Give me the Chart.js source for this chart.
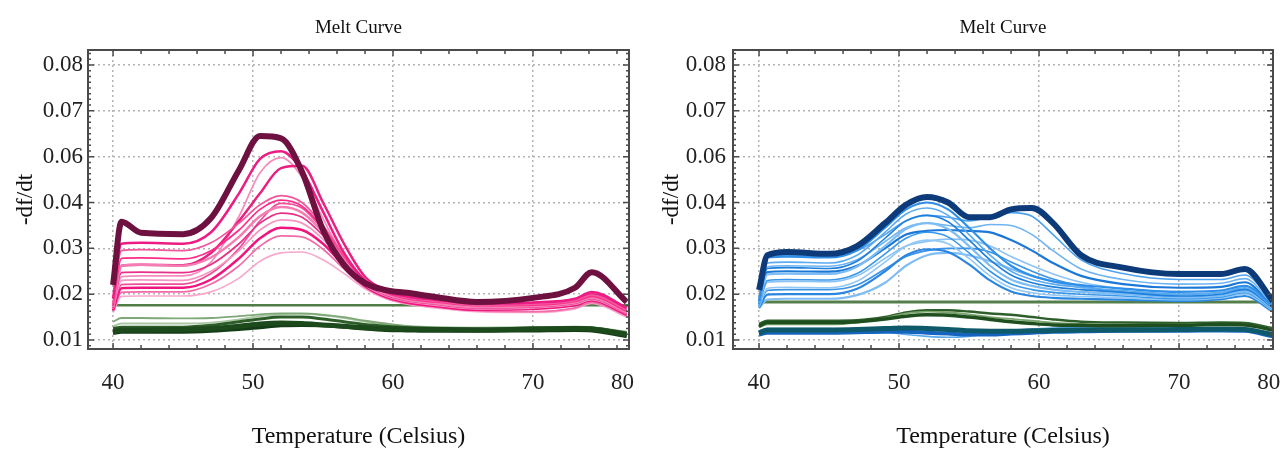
<!DOCTYPE html>
<html>
<head>
<meta charset="utf-8">
<script src="https://cdn.jsdelivr.net/npm/chart.js@4.4.0/dist/chart.umd.min.js"></script>
<style>
  html, body { margin: 0; padding: 0; background: #fff; }
  #wrap { position: relative; width: 1283px; height: 449px; }
  canvas { position: absolute; top: 0; }
</style>
</head>
<body>
<div id="wrap">
  <canvas id="leftChart" width="641" height="449" style="left:0"></canvas>
  <canvas id="rightChart" width="642" height="449" style="left:641px"></canvas>
</div>
<script>
// temperatures for each panel's curves
const tempsLeft = [40, 40.6, 42, 45, 47, 49, 50.5, 52, 53.5, 55, 56.5, 58, 59.5, 61, 63, 66, 70, 73, 74.2, 76.7];
const tempsRight = [40, 40.6, 42, 45, 47, 49, 50.5, 52, 53.5, 55, 56.5, 58, 59.5, 61, 63, 66, 70, 73, 74.7, 76.7];
const flatTemps = [40, 76.9];

const xTickValues = [40, 50, 60, 70, 76.4];
const xTickLabels = ['40', '50', '60', '70', '80'];
const yTickValues = [0.01, 0.02, 0.03, 0.04, 0.05, 0.06, 0.07];
const yTickLabels = ['0.01', '0.02', '0.03', '0.04', '0.06', '0.07', '0.08'];

// left panel
const maroonLeft = [0.0220, 0.0358, 0.0334, 0.0331, 0.0366, 0.0471, 0.0545, 0.0540, 0.0467, 0.0340, 0.0264, 0.0224, 0.0209, 0.0203, 0.0194, 0.0183, 0.0192, 0.0214, 0.0248, 0.0183];
const pinkLeft = [
  [0.0190, 0.0310, 0.0312, 0.0310, 0.0335, 0.0420, 0.0495, 0.0512, 0.0470, 0.0380, 0.0290, 0.0230, 0.0205, 0.0195, 0.0188, 0.0180, 0.0182, 0.0190, 0.0205, 0.0170],
  [0.0180, 0.0295, 0.0297, 0.0295, 0.0312, 0.0355, 0.0395, 0.0415, 0.0400, 0.0350, 0.0285, 0.0230, 0.0205, 0.0192, 0.0185, 0.0176, 0.0178, 0.0186, 0.0198, 0.0165],
  [0.0175, 0.0278, 0.0279, 0.0277, 0.0295, 0.0340, 0.0385, 0.0405, 0.0392, 0.0345, 0.0282, 0.0228, 0.0203, 0.0190, 0.0183, 0.0175, 0.0176, 0.0184, 0.0195, 0.0163],
  [0.0172, 0.0262, 0.0264, 0.0262, 0.0280, 0.0325, 0.0370, 0.0390, 0.0378, 0.0335, 0.0276, 0.0225, 0.0200, 0.0188, 0.0180, 0.0172, 0.0174, 0.0182, 0.0192, 0.0160],
  [0.0170, 0.0247, 0.0248, 0.0247, 0.0265, 0.0310, 0.0355, 0.0377, 0.0368, 0.0328, 0.0272, 0.0222, 0.0198, 0.0186, 0.0178, 0.0170, 0.0172, 0.0180, 0.0190, 0.0158],
  [0.0168, 0.0230, 0.0231, 0.0230, 0.0250, 0.0295, 0.0340, 0.0362, 0.0355, 0.0320, 0.0268, 0.0220, 0.0196, 0.0184, 0.0176, 0.0168, 0.0170, 0.0178, 0.0188, 0.0157],
  [0.0165, 0.0213, 0.0214, 0.0214, 0.0232, 0.0278, 0.0322, 0.0345, 0.0340, 0.0310, 0.0262, 0.0218, 0.0194, 0.0182, 0.0174, 0.0166, 0.0168, 0.0176, 0.0186, 0.0155],
  [0.0163, 0.0204, 0.0205, 0.0205, 0.0222, 0.0262, 0.0305, 0.0327, 0.0325, 0.0298, 0.0255, 0.0215, 0.0192, 0.0180, 0.0172, 0.0164, 0.0162, 0.0170, 0.0182, 0.0153],
  [0.0160, 0.0195, 0.0196, 0.0196, 0.0205, 0.0235, 0.0272, 0.0290, 0.0292, 0.0275, 0.0245, 0.0212, 0.0190, 0.0178, 0.0170, 0.0162, 0.0160, 0.0168, 0.0180, 0.0150],
  [0.0172, 0.0262, 0.0264, 0.0263, 0.0290, 0.0360, 0.0420, 0.0475, 0.0480, 0.0400, 0.0310, 0.0238, 0.0208, 0.0194, 0.0185, 0.0177, 0.0178, 0.0186, 0.0200, 0.0165],
  [0.0168, 0.0238, 0.0240, 0.0240, 0.0270, 0.0370, 0.0465, 0.0498, 0.0455, 0.0365, 0.0280, 0.0226, 0.0200, 0.0188, 0.0180, 0.0172, 0.0175, 0.0183, 0.0196, 0.0162],
  [0.0166, 0.0221, 0.0222, 0.0222, 0.0245, 0.0300, 0.0360, 0.0398, 0.0388, 0.0340, 0.0275, 0.0222, 0.0197, 0.0185, 0.0177, 0.0169, 0.0171, 0.0179, 0.0189, 0.0156]
];
const flatLeft = [0.0176, 0.0176];
const greenLeft = [
  [0.0118, 0.0122, 0.0122, 0.0123, 0.0125, 0.0130, 0.0135, 0.0137, 0.0136, 0.0133, 0.0130, 0.0127, 0.0125, 0.0124, 0.0123, 0.0122, 0.0124, 0.0125, 0.0124, 0.0112],
  [0.0125, 0.0128, 0.0128, 0.0128, 0.0132, 0.0140, 0.0146, 0.0150, 0.0150, 0.0146, 0.0140, 0.0134, 0.0130, 0.0127, 0.0125, 0.0124, 0.0126, 0.0127, 0.0126, 0.0115],
  [0.0140, 0.0148, 0.0148, 0.0147, 0.0148, 0.0152, 0.0156, 0.0158, 0.0158, 0.0155, 0.0150, 0.0142, 0.0136, 0.0131, 0.0128, 0.0127, 0.0128, 0.0129, 0.0128, 0.0118],
  [0.0115, 0.0118, 0.0118, 0.0118, 0.0120, 0.0124, 0.0128, 0.0132, 0.0133, 0.0132, 0.0129, 0.0125, 0.0122, 0.0121, 0.0120, 0.0120, 0.0121, 0.0122, 0.0121, 0.0108],
  [0.0130, 0.0136, 0.0136, 0.0136, 0.0138, 0.0145, 0.0152, 0.0156, 0.0157, 0.0154, 0.0148, 0.0140, 0.0133, 0.0129, 0.0127, 0.0126, 0.0127, 0.0128, 0.0127, 0.0116]
];

// right panel
const navyRight = [0.0209, 0.0285, 0.0292, 0.0288, 0.0305, 0.0355, 0.0395, 0.0412, 0.0400, 0.0368, 0.0368, 0.0385, 0.0388, 0.0355, 0.0285, 0.0258, 0.0244, 0.0244, 0.0255, 0.0185];
const blueRight = [
  [0.0185, 0.0280, 0.0282, 0.0280, 0.0296, 0.0345, 0.0385, 0.0400, 0.0385, 0.0345, 0.0300, 0.0262, 0.0240, 0.0228, 0.0220, 0.0212, 0.0205, 0.0208, 0.0218, 0.0175],
  [0.0180, 0.0268, 0.0270, 0.0268, 0.0285, 0.0335, 0.0375, 0.0388, 0.0372, 0.0330, 0.0285, 0.0250, 0.0232, 0.0222, 0.0215, 0.0208, 0.0200, 0.0204, 0.0214, 0.0172],
  [0.0178, 0.0256, 0.0258, 0.0256, 0.0272, 0.0322, 0.0360, 0.0372, 0.0358, 0.0318, 0.0275, 0.0242, 0.0225, 0.0216, 0.0210, 0.0204, 0.0196, 0.0200, 0.0210, 0.0170],
  [0.0176, 0.0243, 0.0245, 0.0244, 0.0260, 0.0305, 0.0342, 0.0355, 0.0342, 0.0305, 0.0262, 0.0232, 0.0218, 0.0210, 0.0205, 0.0200, 0.0193, 0.0197, 0.0206, 0.0168],
  [0.0174, 0.0230, 0.0232, 0.0231, 0.0245, 0.0288, 0.0322, 0.0335, 0.0325, 0.0290, 0.0250, 0.0222, 0.0210, 0.0204, 0.0200, 0.0196, 0.0190, 0.0194, 0.0203, 0.0166],
  [0.0172, 0.0213, 0.0215, 0.0214, 0.0228, 0.0270, 0.0305, 0.0318, 0.0310, 0.0278, 0.0240, 0.0214, 0.0203, 0.0198, 0.0195, 0.0192, 0.0188, 0.0192, 0.0200, 0.0164],
  [0.0170, 0.0199, 0.0200, 0.0200, 0.0212, 0.0250, 0.0285, 0.0298, 0.0292, 0.0265, 0.0230, 0.0206, 0.0196, 0.0192, 0.0190, 0.0188, 0.0185, 0.0189, 0.0196, 0.0162],
  [0.0190, 0.0283, 0.0285, 0.0283, 0.0295, 0.0330, 0.0360, 0.0372, 0.0368, 0.0360, 0.0368, 0.0378, 0.0370, 0.0330, 0.0275, 0.0245, 0.0232, 0.0232, 0.0242, 0.0180],
  [0.0185, 0.0260, 0.0262, 0.0261, 0.0275, 0.0315, 0.0345, 0.0355, 0.0350, 0.0345, 0.0352, 0.0350, 0.0330, 0.0295, 0.0255, 0.0232, 0.0222, 0.0224, 0.0234, 0.0176],
  [0.0182, 0.0248, 0.0250, 0.0249, 0.0262, 0.0300, 0.0330, 0.0338, 0.0340, 0.0338, 0.0335, 0.0318, 0.0295, 0.0268, 0.0240, 0.0222, 0.0214, 0.0216, 0.0226, 0.0172],
  [0.0178, 0.0226, 0.0228, 0.0227, 0.0240, 0.0278, 0.0305, 0.0315, 0.0320, 0.0318, 0.0305, 0.0282, 0.0262, 0.0244, 0.0226, 0.0212, 0.0206, 0.0208, 0.0218, 0.0170],
  [0.0175, 0.0208, 0.0210, 0.0210, 0.0220, 0.0255, 0.0282, 0.0295, 0.0300, 0.0300, 0.0292, 0.0270, 0.0250, 0.0233, 0.0218, 0.0205, 0.0200, 0.0203, 0.0212, 0.0167],
  [0.0170, 0.0188, 0.0190, 0.0190, 0.0198, 0.0225, 0.0262, 0.0285, 0.0290, 0.0285, 0.0272, 0.0255, 0.0240, 0.0228, 0.0215, 0.0203, 0.0195, 0.0198, 0.0206, 0.0162],
  [0.0120, 0.0125, 0.0125, 0.0125, 0.0123, 0.0118, 0.0112, 0.0108, 0.0106, 0.0108, 0.0114, 0.0120, 0.0124, 0.0126, 0.0127, 0.0127, 0.0126, 0.0125, 0.0124, 0.0110]
];
const flatRight = [0.0183, 0.0183];
const greenRight = [
  [0.0130, 0.0138, 0.0138, 0.0138, 0.0140, 0.0146, 0.0152, 0.0155, 0.0154, 0.0150, 0.0145, 0.0140, 0.0136, 0.0133, 0.0132, 0.0131, 0.0132, 0.0134, 0.0133, 0.0122],
  [0.0115, 0.0122, 0.0122, 0.0122, 0.0123, 0.0125, 0.0126, 0.0125, 0.0123, 0.0120, 0.0119, 0.0119, 0.0120, 0.0121, 0.0122, 0.0122, 0.0123, 0.0124, 0.0123, 0.0112],
  [0.0128, 0.0134, 0.0134, 0.0134, 0.0138, 0.0148, 0.0158, 0.0162, 0.0160, 0.0156, 0.0150, 0.0146, 0.0142, 0.0138, 0.0135, 0.0133, 0.0134, 0.0135, 0.0134, 0.0124],
  [0.0112, 0.0116, 0.0116, 0.0116, 0.0117, 0.0118, 0.0118, 0.0116, 0.0114, 0.0112, 0.0112, 0.0114, 0.0116, 0.0118, 0.0119, 0.0120, 0.0120, 0.0121, 0.0120, 0.0108],
  [0.0135, 0.0142, 0.0142, 0.0142, 0.0143, 0.0150, 0.0160, 0.0165, 0.0165, 0.0162, 0.0158, 0.0155, 0.0150, 0.0145, 0.0140, 0.0138, 0.0137, 0.0138, 0.0137, 0.0126]
];

const pinkColors = ['#ec1c84', '#f2569c', '#ff2a8a', '#f47db3', '#e6308a', '#f796c2', '#f0147f', '#f36aa8', '#f8a8cc', '#e8207f', '#f58cbc', '#ee4e98'];
const blueColors = ['#2f8fe8', '#5aaaf0', '#1f7fdc', '#7dbdf4', '#3a98ea', '#92c8f6', '#2a86e0', '#4ea2ee', '#6fb4f2', '#1c78d6', '#8ac2f5', '#3b93e6', '#7fbdf4', '#5aa9ee'];
const greenLeftStyle = [['#1d4a1d', 5], ['#2d5e2a', 3], ['#7fa878', 1.8], ['#143c16', 4], ['#a9c8a3', 1.8]];
const greenRightStyle = [['#1f4f1f', 3.5], ['#0f5a6a', 5], ['#7aa56c', 1.8], ['#1565c0', 4], ['#2e5f2a', 2.5]];

const FONT = "'Liberation Serif', 'Times New Roman', serif";

function series(xs, ys, color, width) {
  return {
    data: xs.map((t, i) => ({ x: t, y: ys[i] })),
    borderColor: color,
    borderWidth: width,
    pointRadius: 0,
    fill: false,
    cubicInterpolationMode: 'monotone'
  };
}

// box round the plot with small marks along its edges
const frame = {
  id: 'frame',
  afterDraw(chart) {
    const { ctx, chartArea: a } = chart;
    const x = chart.scales.x, y = chart.scales.y;
    ctx.save();
    ctx.strokeStyle = '#4a4a4a';
    ctx.lineWidth = 2;
    ctx.strokeRect(a.left, a.top, a.right - a.left, a.bottom - a.top);
    ctx.lineWidth = 1.5;
    ctx.beginPath();
    for (let t = 40; t <= x.max; t += 2) {
      const px = x.getPixelForValue(t);
      const len = t % 10 === 0 ? 6 : 4;
      ctx.moveTo(px, a.bottom); ctx.lineTo(px, a.bottom - len);
      ctx.moveTo(px, a.top); ctx.lineTo(px, a.top + len);
    }
    for (let k = -1; k < 60; k++) {
      const v = 0.01 + k * 0.00125;
      if (v > y.max) break;
      const py = y.getPixelForValue(v);
      const len = k % 8 === 0 ? 6 : 3;
      ctx.moveTo(a.left, py); ctx.lineTo(a.left + len, py);
      ctx.moveTo(a.right, py); ctx.lineTo(a.right - len, py);
    }
    ctx.stroke();
    ctx.restore();
  }
};

function makeChart(id, datasets, opt) {
  return new Chart(document.getElementById(id).getContext('2d'), {
    type: 'line',
    data: { datasets },
    options: {
      responsive: false,
      animation: false,
      layout: { padding: { left: 0, right: opt.padRight, top: 0, bottom: 0 } },
      plugins: { legend: { display: false }, tooltip: { enabled: false } },
      scales: {
        x: {
          type: 'linear',
          min: opt.xMin,
          max: opt.xMax,
          afterBuildTicks: s => { s.ticks = xTickValues.map(v => ({ value: v })); },
          afterFit: s => { s.height = 100; s.paddingLeft = 0; s.paddingRight = 0; },
          ticks: {
            callback: (v, i) => xTickLabels[i],
            font: { family: FONT, size: 23 },
            color: '#222',
            padding: 20,
            autoSkip: false,
            maxRotation: 0
          },
          grid: {
            color: c => c.index === 4 ? 'rgba(0,0,0,0)' : '#b4b4b4',
            lineWidth: 1.5,
            drawTicks: false
          },
          border: { display: false, dash: [2, 3] },
          title: {
            display: true,
            text: 'Temperature (Celsius)',
            font: { family: FONT, size: 24, lineHeight: 1 },
            color: '#111',
            padding: { top: 0, bottom: 0 }
          }
        },
        top: {
          type: 'linear',
          position: 'top',
          min: opt.xMin,
          max: opt.xMax,
          afterFit: s => { s.height = 50; s.paddingLeft = 0; s.paddingRight = 0; },
          ticks: { display: false },
          grid: { display: false },
          border: { display: false },
          title: {
            display: true,
            text: 'Melt Curve',
            font: { family: FONT, size: 19 },
            color: '#111',
            padding: { top: 17, bottom: 0 }
          }
        },
        y: {
          min: 0.00804,
          max: 0.07327,
          afterBuildTicks: s => { s.ticks = yTickValues.map(v => ({ value: v })); },
          afterFit: s => { s.width = opt.yWidth; },
          ticks: {
            callback: (v, i) => yTickLabels[i],
            font: { family: FONT, size: 23 },
            color: '#222',
            padding: opt.yTickPad
          },
          grid: { color: '#b4b4b4', lineWidth: 1.5, drawTicks: false },
          border: { display: false, dash: [2, 3] },
          title: {
            display: true,
            text: '-df/dt',
            font: { family: FONT, size: 23, lineHeight: 1 },
            color: '#111',
            padding: { top: opt.yTitlePad, bottom: 0 }
          }
        }
      }
    },
    plugins: [frame]
  });
}

const leftSets = [series(tempsLeft, maroonLeft, '#6e1140', 6)]
  .concat(pinkLeft.map((c, i) => series(tempsLeft, c, pinkColors[i], i % 3 === 0 ? 2.5 : 1.7)))
  .concat(greenLeft.map((c, i) => series(tempsLeft, c, greenLeftStyle[i][0], greenLeftStyle[i][1])))
  .concat([series(flatTemps, flatLeft, '#4f7d45', 2.5)]);

const rightSets = [series(tempsRight, navyRight, '#0d3b7a', 6)]
  .concat(greenRight.map((c, i) => series(tempsRight, c, greenRightStyle[i][0], greenRightStyle[i][1])))
  .concat(blueRight.map((c, i) => series(tempsRight, c, blueColors[i], i % 3 === 0 ? 2.2 : 1.6)))
  .concat([series(flatTemps, flatRight, '#557f4a', 3)]);

makeChart('leftChart', leftSets, { xMin: 38.21, xMax: 76.86, padRight: 12, yWidth: 88, yTickPad: 5, yTitlePad: 14 });
makeChart('rightChart', rightSets, { xMin: 38.14, xMax: 76.71, padRight: 10, yWidth: 92, yTickPad: 7, yTitlePad: 19 });
</script>
</body>
</html>
